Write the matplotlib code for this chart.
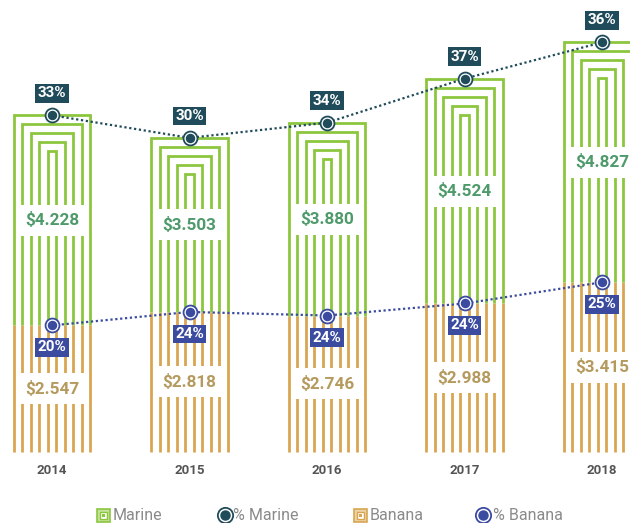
import matplotlib.pyplot as plt
from matplotlib.patches import Rectangle
import numpy as np

# data
years = ['2014', '2015', '2016', '2017', '2018']
marine = [4.228, 3.503, 3.880, 4.524, 4.827]
banana = [2.547, 2.818, 2.746, 2.988, 3.415]
pct_marine = [33, 30, 34, 37, 36]
pct_banana = [20, 24, 24, 24, 25]

GREEN = '#8cc63e'
ORANGE = '#d8a653'
TEAL = '#1f4b5a'
BLUE = '#3a4ba0'
MARINE_TXT = '#4f9a6b'
BANANA_TXT = '#b59a5e'

plt.rcParams['font.family'] = ['Roboto', 'DejaVu Sans']
NARROW = ['Liberation Sans Narrow', 'Roboto', 'DejaVu Sans']

fig = plt.figure(figsize=(6.3, 5.23), dpi=100)
ax = fig.add_axes([0, 0, 1, 1])

# pixel -> data scale
PX_X = 1 / 137.5
PX_Y = 1 / 49.7
ax.set_xlim(-52 * PX_X, 578 * PX_X)
ax.set_ylim(-71 * PX_Y, 452 * PX_Y)
ax.axis('off')

sp = 8.5 * PX_X        # spacing between the vertical lines
step = 9 * PX_Y        # drop between nested tops
lw = 2.0

x = np.arange(len(years))
tops = np.array(marine) + np.array(banana)

for i in x:
    b = banana[i]
    t = tops[i]
    # banana: straight vertical lines
    for k in range(10):
        xo = i + (k - 4.5) * sp
        z = 4 if k in (0, 9) else 2
        ax.plot([xo, xo], [0, b], color=ORANGE, lw=lw, zorder=z, solid_capstyle='butt')
    # marine: nested inverted U shapes
    for j in range(5):
        off = (4.5 - j) * sp
        top = t - j * step
        z = 4 if j == 0 else 2
        ax.plot([i - off, i - off, i + off, i + off], [b, top, top, b],
                color=GREEN, lw=lw, zorder=z, solid_capstyle='butt', solid_joinstyle='miter')

    # value labels on white boxes
    hw = 35.5 * PX_X
    hh = 15.5 * PX_Y
    my = b + marine[i] / 2
    by = b / 2
    for yy, val, col in [(my, marine[i], MARINE_TXT), (by, banana[i], BANANA_TXT)]:
        ax.add_patch(Rectangle((i - hw, yy - hh), 2 * hw, 2 * hh, facecolor='white',
                               edgecolor='none', zorder=3))
        ax.text(i, yy, f'${val:.3f}', ha='center', va='center', fontsize=12.3,
                fontweight='bold', color=col, zorder=5, family=NARROW)

    # year labels
    ax.text(i, -19 * PX_Y, years[i], ha='center', va='center', fontsize=9.5,
            fontweight='bold', color='#555555', family=NARROW)

# percentage lines and markers
ax.plot(x, tops, color=TEAL, lw=1.6, ls=(0, (1, 1.2)), zorder=6)
ax.plot(x, banana, color=BLUE, lw=1.6, ls=(0, (1, 1.2)), zorder=6)
for ys, col in [(tops, TEAL), (banana, BLUE)]:
    ax.plot(x, ys, 'o', ms=10, mfc='white', mec=col, mew=1.3, zorder=7)
    ax.plot(x, ys, 'o', ms=5.8, mfc=col, mec=col, zorder=8)

for i in x:
    ax.text(i, tops[i] + 22 * PX_Y, f'{pct_marine[i]}%', ha='center', va='center',
            fontsize=11, fontweight='bold', color='white', zorder=9, family=NARROW,
            bbox=dict(boxstyle='square,pad=0.15', fc=TEAL, ec='none'))
    ax.text(i, banana[i] - 22 * PX_Y, f'{pct_banana[i]}%', ha='center', va='center',
            fontsize=11, fontweight='bold', color='white', zorder=9, family=NARROW,
            bbox=dict(boxstyle='square,pad=0.15', fc=BLUE, ec='none'))

# legend (figure pixel coordinates)
W, H = 630, 523


def fx(px):
    return px / W


def fy(py):
    return (H - py) / H


ly = 515
for cx, col, light in [(103, GREEN, '#c3e29b'), (360, ORANGE, '#ecd3a4')]:
    s = 13
    fig.patches.append(Rectangle((fx(cx - s / 2), fy(ly + s / 2)), s / W, s / H,
                                 transform=fig.transFigure, fc=light, ec=col, lw=1.2))
    s2 = 7
    fig.patches.append(Rectangle((fx(cx - s2 / 2), fy(ly + s2 / 2)), s2 / W, s2 / H,
                                 transform=fig.transFigure, fc='white', ec=col, lw=1.0))
    s3 = 3
    fig.patches.append(Rectangle((fx(cx - s3 / 2), fy(ly + s3 / 2)), s3 / W, s3 / H,
                                 transform=fig.transFigure, fc=col, ec='none'))

for cx, col in [(225, TEAL), (483, BLUE)]:
    fig.lines.append(plt.Line2D([fx(cx)], [fy(ly)], transform=fig.transFigure, marker='o',
                                ms=11, mfc='white', mec=col, mew=1.3))
    fig.lines.append(plt.Line2D([fx(cx)], [fy(ly)], transform=fig.transFigure, marker='o',
                                ms=6.5, mfc=col, mec=col))

for tx, label in [(113, 'Marine'), (233, '% Marine'), (370, 'Banana'), (493, '% Banana')]:
    fig.text(fx(tx), fy(ly), label, ha='left', va='center', fontsize=11.5, color='#8a8a8a',
             family=NARROW)

fig.savefig('out.png', dpi=100)
